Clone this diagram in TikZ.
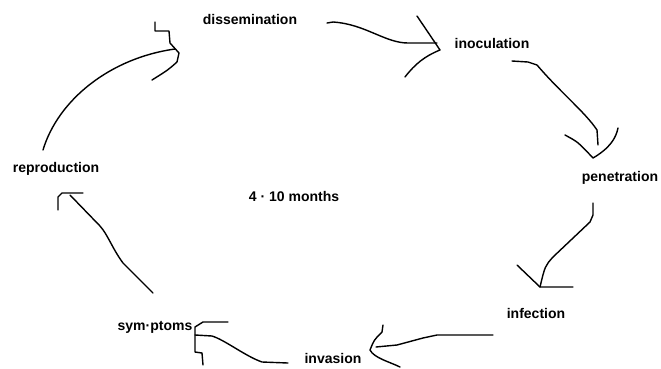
\documentclass[tikz,border=0pt]{standalone}
\usepackage{fontspec}
\setmainfont{Liberation Sans}
\usepackage{tikz}
\usetikzlibrary{calc,positioning}

\begin{document}
\begin{tikzpicture}[
  x=1pt, y=-1pt,
  stage/.style={
    inner sep=0pt,
    font=\bfseries\fontsize{14}{16}\selectfont
    },
  pen/.style={
    line width=1.4pt,
    line join=round,
    line cap=round
  }
]
\useasboundingbox (0,0) rectangle (661,368);

% stages of the cycle
\node[stage] (dissemination) at (250,19)  {dissemination};
\node[stage] (inoculation)   at (492,43)  {inoculation};
\node[stage] (penetration)   at (620,178) {penetration};
\node[stage] (infection)     at (536,313) {infection};
\node[stage] (invasion)      at (333,358) {invasion};
\node[stage] (symptoms)      at (155,327) {sym·ptoms};
\node[stage] (reproduction)  at (56,169)  {reproduction};
\node[stage] (duration)      at (294,196) {4 · 10 months};

% ends of the hand drawn arrows
\coordinate (dis-out) at (327,23);
\coordinate (ino-in)  at (440,50);
\coordinate (ino-out) at (512,61);
\coordinate (pen-in)  at (593,158);
\coordinate (pen-out) at (593,203);
\coordinate (inf-in)  at (540,287);
\coordinate (inf-out) at (493,335);
\coordinate (inv-in)  at (370,350);
\coordinate (inv-out) at (288,363);
\coordinate (sym-in)  at (195,335);
\coordinate (sym-out) at (153,293);
\coordinate (rep-in)  at (62,193);
\coordinate (rep-out) at (43,150);
\coordinate (dis-in)  at (179,53);

% dissemination -> inoculation
\draw[pen] (dis-out) -- ++(6,-1) .. controls (365,24) and (385,43) .. (408,43) -- (437,43);
\draw[pen] (417,16) -- (ino-in) .. controls (425,56) and (415,64) .. (405,77);

% inoculation -> penetration
\draw[pen] (ino-out) -- (528,62) -- (537,65) .. controls (560,92) and (585,112) .. (597,130) -- (598,145);
\draw[pen] (565,135) .. controls (578,142) .. (pen-in) .. controls (610,148) and (616,138) .. (618,128);

% penetration -> infection
\draw[pen] (pen-out) -- (593,215) -- (590,222) -- (553,257) .. controls (545,266) .. (inf-in);
\draw[pen] (517,265) -- (inf-in) -- (573,287);

% infection -> invasion
\draw[pen] (inf-out) -- (437,335) -- (423,338) -- (397,345) -- (376,347);
\draw[pen] (383,325) -- (382,332) .. controls (374,340) .. (inv-in) .. controls (374,358) and (390,362) .. (400,367);

% invasion -> symptoms
\draw[pen] (inv-out) -- (262,362) .. controls (245,356) and (225,340) .. (212,336) -- (sym-in);
\draw[pen] (228,322) -- (203,322) -- (195,327) -- (195,352) -- (202,353) -- (203,365);

% symptoms -> reproduction
\draw[pen] (sym-out) -- (123,263) .. controls (112,248) and (108,235) .. (100,226) -- (70,195);
\draw[pen] (58,210) -- (58,197) -- (rep-in) -- (83,193);

% reproduction -> dissemination
\draw[pen] (rep-out) .. controls (58,100) and (110,58) .. (175,49);
\draw[pen] (155,22) -- (155,31) -- (169,31) -- (170,43) -- (dis-in) -- (177,62) .. controls (168,70) .. (152,80);

\end{tikzpicture}
\end{document}
